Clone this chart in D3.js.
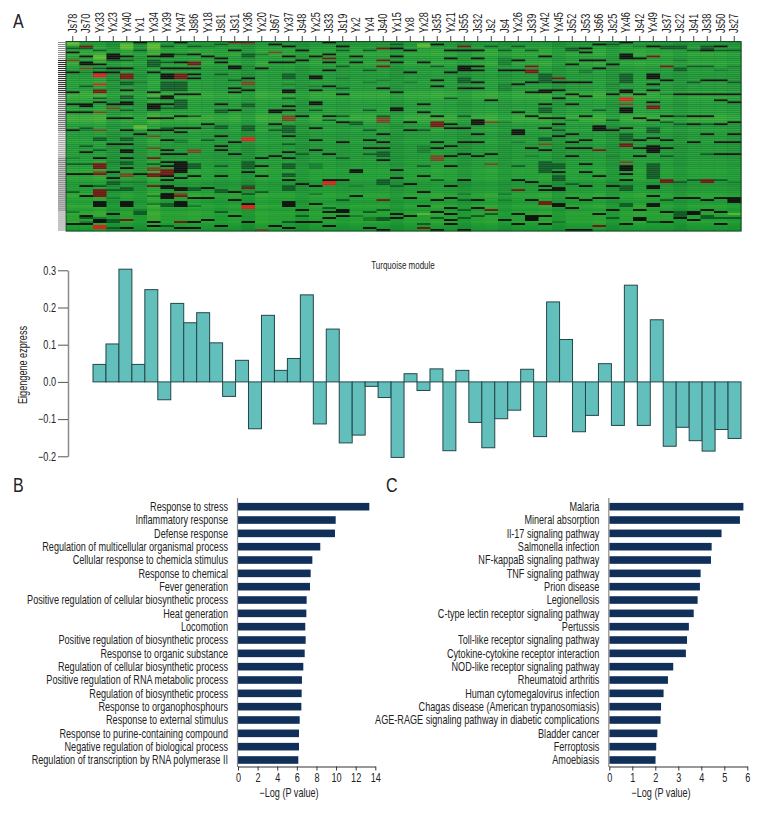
<!DOCTYPE html>
<html>
<head>
<meta charset="utf-8">
<script src="https://cdn.jsdelivr.net/npm/d3@7"></script>
<style>
  body { margin: 0; background: #fff; }
  svg { display: block; }
  text { font-family: "Liberation Sans", sans-serif; fill: #222; }
</style>
</head>
<body>
<svg width="768" height="816">
  <defs><filter id="soft" x="0" y="0" width="100%" height="100%"><feGaussianBlur stdDeviation="0.25 0.5"/></filter></defs>
</svg>
<script>
const samples = ["Js78","Js70","Yx33","Yx23","Yx40","Yx1","Yx34","Yx39","Yx47","Js86","Yx18","Js81","Js31","Yx36","Yx20","Js67","Yx37","Js48","Yx25","Js33","Js19","Yx2","Yx4","Js40","Yx15","Yx8","Yx28","Js35","Yx21","Js55","Js32","Js2","Js4","Yx26","Js39","Yx42","Yx45","Js52","Js53","Js66","Js25","Yx46","Js42","Yx49","Js37","Js22","Js41","Js38","Js50","Js27"];

const eigengene = [0.047,0.102,0.303,0.047,0.248,-0.048,0.211,0.159,0.186,0.105,-0.039,0.058,-0.126,0.179,0.031,0.063,0.234,-0.113,0.142,-0.164,-0.143,-0.012,-0.042,-0.203,0.022,-0.023,0.035,-0.185,0.031,-0.109,-0.177,-0.099,-0.076,0.034,-0.147,0.215,0.114,-0.134,-0.09,0.049,-0.117,0.26,-0.117,0.167,-0.173,-0.122,-0.158,-0.186,-0.128,-0.152];

const goTerms = ["Response to stress","Inflammatory response","Defense response","Regulation of multicellular organismal process","Cellular response to chemicla stimulus","Response to chemical","Fever generation","Positive regulation of cellular biosynthetic process","Heat generation","Locomotion","Positive regulation of biosynthetic process","Response to organic substance","Regulation of cellular biosynthetic process","Positive regulation of RNA metabolic process","Regulation of biosynthetic process","Response to organophosphours","Response to external stimulus","Response to purine-containing compound","Negative regulation of biological process","Regulation of transcription by RNA polymerase II"];
const goValues = [13.39,9.96,9.89,8.39,7.58,7.41,7.34,7.0,6.97,6.86,6.9,6.8,6.66,6.52,6.49,6.46,6.29,6.22,6.22,6.15];

const pathways = ["Malaria","Mineral absorption","Il-17 signaling pathway","Salmonella infection","NF-kappaB signaling pathway","TNF signaling pathway","Prion disease","Legionellosis","C-type lectin receptor signaling pathway","Pertussis","Toll-like receptor signaling pathway","Cytokine-cytokine receptor interaction","NOD-like receptor signaling pathway","Rheumatoid arthritis","Human cytomegalovirus infection","Chagas disease (American trypanosomiasis)","AGE-RAGE signaling pathway in diabetic complications","Bladder cancer","Ferroptosis","Amoebiasis"];
const pathwayValues = [5.83,5.68,4.88,4.45,4.42,3.97,3.94,3.84,3.67,3.46,3.38,3.33,2.78,2.55,2.36,2.25,2.23,2.09,2.04,2.01];

// expression, one string per sample: row + level, everything else is the column's base green
const levels = { k: 0, d: -0.25, m: -0.45, l: -1, b: 0.3, n: 0.55, r: 0.95 };
const baseLevel = [-.75,-.75,-.78,-.64,-.72,-.66,-.8,-.72,-.72,-.75,-.72,-.68,-.72,-.62,-.75,-.72,-.72,-.64,-.72,-.72,-.68,-.72,-.72,-.72,-.64,-.72,-.72,-.75,-.72,-.64,-.72,-.75,-.66,-.72,-.72,-.75,-.64,-.72,-.72,-.75,-.64,-.72,-.75,-.72,-.72,-.64,-.72,-.72,-.72,-.68];
// a few rows run lighter or darker right across the map
const rowShade = [.1,.1,.05,0,-.04,-.04,-.08,0,.04,0,-.06,-.06,.04,.06,.06,0,.08,.08,.06,.04,0,.04,.06,.06,.04,-.06,-.08,-.08,-.04,0,.02,.06,.06,.02,0,.02,-.04,-.08,-.1,-.1,-.04,.02,.08,.04,-.04,.04,.08,.08,.06,.02,0,.06,.08,.08,.04,.06,.04,.06,.08,.02,0,.06,.04,0,-.04,-.04,0,-.02,-.04,-.02,.06,.08,.06,.02,.04,0,-.06,-.08,-.02,-.02,.04,-.02,-.08,-.04,.02,-.06,-.08,-.04,-.06,-.04,-.08,-.02,.02,.04,.08];
const heatRows = [
  "0-1l 3d 5k 9b 15k 25k 31k 35k 44k 58m 61d 66k 75d 85m 91k",
  "2n 3d 7k 10-11k 13b 15m 22d 31-32k 35k 43d 44m 52d 55k 61d 66k 72k 77k 87k 88d 90m 91k",
  "4d 7-8l 11k 13d 15k 16-17r 21r 24-25n 28d 30k 35b 44b 48-49d 54d 58k 61-63n 65b 66n 72d 74-77n 80-82k 88m 89-90k 92-93r",
  "6-8k 9d 13k 15k 19m 31k 33b 38k 51k 60m 65k 68k 70-71d 74d 78m 86k 89-90d 93d",
  "1-3l 7k 9d 13k 16-18n 20-21d 24k 27-28d 30-31k 34d 38k 44k 48-49d 51k 54-55k 58k 60-61d 63k 66-67b 70m 73-74d 80-82k 89n 93k",
  "0k 4d 20m 42l 43l 46k 66k 70m 84m 85-86d",
  "1-3l 7k 9-11d 12d 15k 25k 28d 31-33k 34d 38k 44k 47b 53b 58n 61d 63-64b 66-67n 72n 77m 81m 90k 92k",
  "2d 6-7k 10d 13k 16-18k 20-24d 27-28k 31k 33d 38k 43d 44k 49k 54k 56k 60k 62k 64-66n 67k 69k 72-73k 76-78k 81-82d 92d",
  "0k 6d 10k 13k 16-18n 20-24d 26k 29-33d 37k 43k 45k 49-50m 56k 60-65k 68k 73-74k 76b 77n 80-82k 90n 93k",
  "2d 6k 10-11n 13k 16k 18k 26k 37d 43k 54-55b 61-63d 67k 73-74d 78k 82m 90k 93k",
  "2m 7k 41k 43m 49d 73k 78k 89k",
  "1d 8k 10k 16d 31k 34-35d 42-43d 47k 52k 54k 62d 67k 74-75d 85d 92k",
  "0n 4k 12-13k 19d 23k 25k 34k 50k 56k 75k 79k 87k",
  "0n 6-7d 12m 18k 20-21b 24k 31-32d 42-44d 48-49r 60-63d 65k 72d 73n 76d 81k 82-83r 90k",
  "6m 13k 58k 62k 67k 75d 94b",
  "1k 5b 10k 34-35k 41k 44d 57k 92k",
  "2k 7k 10k 16-18d 21m 24-25k 28d 32k 34k 37-39b 42-45d 47k 51d 55k 58k 61-63d 66-67d 69k 72-74d 80-82k 90d 93k",
  "4k 9k 37k 56d 71k 84k 87d 90k",
  "7k 17-18k 22m 24k 30-31k 34d 43k 49k 54k 61-63m 72k 76m 81k 90k",
  "0k 6k 8n 10k 14k 22k 37k 39d 56k 69k 70-71r 83d 85k 88k 92k",
  "2k 4d 12d 18m 23d 26k 37d 40k 50k 58d 69k 79d 84-85k 87k",
  "7k 10k 40-41d 64k 65k 72m 77k 87m",
  "4d 14d 20m 34d 44d 49k 53k 56d 85d 88m 89m 93k",
  "3n 9n 12n 19m 23k 37d 38-40b 46k 50k 53k 55-57d 59k 69-71d 79n 84d 88-89d 94k",
  "1d 3k 7k 10k 25k 33-34k 64k 68k 72d 86k 88k",
  "4k 15k 20m 40k 44k 71k 78k 87k",
  "1-2l 10k 31k 35k 44d 52-55m 62d 67k 75k 82k 86l 91d 93n",
  "1k 12d 19k 22k 37k 40-42n 50k 53k 57b 58-59b 69d 79k 85k 88d 94k",
  "4k 8k 15k 28d 41k 43k 52k 57k 62k 72k 78k 83k 86k 89k 91k",
  "2n 4k 12-14k 18-20d 23k 37d 43k 50k 56k 69k 76m 79d 84d 88d 94k",
  "4k 8k 12k 14k 20k 23k 39-41k 46k 50k 57k 79k 83k 87d",
  "2d 29k 40b 56k 61b 84n 86d",
  "4d 8-11m 14k 21-24m 40m 76m 79m 89k",
  "2d 9k 14k 21k 35k 44-46k 50m 62d 69k 74n 86k 91k",
  "4d 12n 14-15n 20k 25k 37k 53k 57m 70k 79k 87-89k",
  "7k 16-20d 24-25k 31k 33-35d 38k 43k 48-49d 51b 54k 60-65d 72k 74k 80-81n 87k 91k",
  "18n 20k 24k 28k 38k 41k 44d 47k 61-63d 65k 67-69d 73-74k 81-82k 90m",
  "3-4d 11k 20k 26k 31k 39m 46k 50k 53k 57k 71d 78k 83k 94k",
  "3k 5k 9k 14-15m 20k 27k 37k 49k 53k 61k 65k 72k 79k 94k",
  "1k 9k 13k 34d 42-44k 54n 67k 78k 86k 92n",
  "1d 11k 21m 26k 39d 43m 44k 57m 72k 78k 84k 88d",
  "0k 6-8k 16-20d 24-25k 28-29r 31b 33-35k 43k 46-49d 51-52n 60b 62-64k 66k 69k 72-74d 81-82d 91k",
  "2m 8k 26k 38k 49k 53k 57k 84k 88-89k",
  "2k 7n 16-18k 21k 24k 30k 32-33n 39k 43-45d 48k 52-54k 55k 61-68d 72-73k 77k 81-82k 90d",
  "2-3d 12n 19k 26m 37k 40d 49k 53k 57d 69-70n 79d 85k 90k",
  "2-3d 9m 13-14d 26k 37d 41d 70d 78k 85-87d 88k",
  "4d 12d 20d 26k 37k 41k 50k 69d 78k 85-86k 89k",
  "2-3d 4k 12d 19k 26k 37k 41d 46k 56d 69-70n 79k 84k 87-88d",
  "2k 4d 14m 19k 26k 29k 41k 50k 56k 69d 78k 85k 88d 91k",
  "4d 12m 20d 26k 30k 40k 46k 50k 56k 70m 78-80k 86l 88d"
];
const rowCount = 95;
const narrow = 0.76;

const svg = d3.select("svg");

// expand the strings to one cell per sample and row
const cells = [];
heatRows.forEach((s, c) => {
  const col = rowShade.map(o => baseLevel[c] + o);
  s.split(" ").forEach(tok => {
    const m = tok.match(/^(\d+)(?:-(\d+))?([a-z])$/);
    const a = +m[1], b = m[2] ? +m[2] : a;
    for (let r = a; r <= b; r++) col[r] = levels[m[3]];
  });
  col.forEach((v, r) => cells.push({ c, r, v }));
});

const heatX = d3.scaleBand().domain(samples).range([66, 741]);
const heatY = d3.scaleBand().domain(d3.range(rowCount)).range([41.5, 231]);
const heatColor = d3.scaleLinear()
  .domain([-1, -0.75, -0.45, -0.25, 0, 0.3, 0.55, 0.95])
  .range(["#58b62e", "#1f9d33", "#147c2c", "#0e5a24", "#0a120a", "#6e4a20", "#6f1a12", "#d2281c"])
  .clamp(true);

svg.append("g").attr("filter", "url(#soft)").selectAll("rect").data(cells).join("rect")
  .attr("x", d => heatX(samples[d.c]))
  .attr("y", d => heatY(d.r))
  .attr("width", heatX.bandwidth() + 0.5)
  .attr("height", heatY.bandwidth() + 0.3)
  .attr("fill", d => heatColor(d.v));

svg.append("rect")
  .attr("x", 66).attr("y", 41.5).attr("width", 675).attr("height", 189.5)
  .attr("fill", "none").attr("stroke", "#154f25").attr("stroke-width", 1);

// row label stripes left of the heatmap, grey where the original's labels blur together
const stripeTone = d => (d < 9 || (d > 44 && d < 58) || d > 84) ? "#8c8c8c" : (d < 26 ? "#1c1c1c" : "#555");
svg.append("g").selectAll("line").data(d3.range(rowCount)).join("line")
  .attr("x1", 58).attr("x2", 66)
  .attr("y1", d => heatY(d) + 1).attr("y2", d => heatY(d) + 1)
  .attr("stroke", stripeTone).attr("stroke-width", 1);

const heatAxis = svg.append("g")
  .attr("transform", "translate(0,41)")
  .call(d3.axisTop(heatX).tickSize(5).tickPadding(3).tickSizeOuter(0));
heatAxis.select(".domain").remove();
heatAxis.selectAll("line").attr("stroke", "#444");
heatAxis.selectAll("text")
  .attr("font-size", 12)
  .attr("font-family", "Liberation Sans")
  .attr("x", 0).attr("y", 0).attr("dy", "0.35em")
  .attr("text-anchor", "start")
  .attr("transform", `translate(0,-8) rotate(-90) scale(${narrow},1)`);

// eigengene bars
const barX = d3.scaleBand().domain(samples).range([93, 741]);
const barY = d3.scaleLinear().domain([-0.2, 0.3]).range([456.3, 270.3]);

svg.append("g").selectAll("rect").data(eigengene).join("rect")
  .attr("x", (d, i) => barX(samples[i]))
  .attr("y", d => Math.min(barY(d), barY(0)))
  .attr("width", barX.bandwidth())
  .attr("height", d => Math.abs(barY(d) - barY(0)))
  .attr("fill", "#63bfbc")
  .attr("stroke", "#24474a")
  .attr("stroke-width", 1);

const eigenAxis = svg.append("g")
  .attr("transform", "translate(68,0)")
  .call(d3.axisLeft(barY).tickValues([-0.2, -0.1, 0, 0.1, 0.2, 0.3]).tickFormat(d => d3.format(".1f")(d).replace("-", "\u2212")).tickSize(10).tickSizeOuter(0));
eigenAxis.select(".domain").attr("stroke", "#8a8a8a").attr("stroke-width", 1.5);
eigenAxis.selectAll("line").attr("stroke", "#555");
eigenAxis.selectAll("text")
  .attr("font-size", 12)
  .attr("font-family", "Liberation Sans")
  .attr("x", 0)
  .attr("transform", `translate(-12,0) scale(${narrow},1)`);

svg.append("text").attr("transform", `translate(403,269) scale(${narrow},1)`).attr("text-anchor", "middle").attr("font-size", 10.5).text("Turquoise module");
svg.append("text").attr("transform", `translate(27,365) rotate(-90) scale(${narrow},1)`).attr("text-anchor", "middle").attr("font-size", 12).text("Eigengene ezpress");

// enrichment panels
function enrichment(names, values, x0, x1, xMax, titleX) {
  const x = d3.scaleLinear().domain([0, xMax]).range([x0, x1]);
  const y = d3.scalePoint().domain(names).range([506.7, 760]);

  svg.append("g").selectAll("rect").data(values).join("rect")
    .attr("x", x0)
    .attr("y", (d, i) => y(names[i]) - 3.8)
    .attr("width", d => x(d) - x0)
    .attr("height", 7.6)
    .attr("fill", "#10305a");

  svg.append("g").selectAll("text").data(names).join("text")
    .attr("transform", d => `translate(${x0 - 10},${y(d)}) scale(${narrow},1)`)
    .attr("dy", "0.35em")
    .attr("text-anchor", "end")
    .attr("font-size", 12)
    .text(d => d);

  svg.append("line").attr("x1", x0 - 0.5).attr("x2", x0 - 0.5).attr("y1", 498).attr("y2", 767)
    .attr("stroke", "#8a8a8a").attr("stroke-width", 1.2);

  const ax = svg.append("g")
    .attr("transform", "translate(0,766.5)")
    .call(d3.axisBottom(x).ticks(xMax === 14 ? 7 : 6).tickSize(4).tickSizeOuter(0));
  ax.select(".domain").attr("stroke", "#333");
  ax.selectAll("line").attr("stroke", "#333");
  ax.selectAll("text")
    .attr("font-size", 12)
    .attr("font-family", "Liberation Sans")
    .attr("y", 0).attr("dy", "0.35em")
    .attr("transform", `translate(0,11) scale(${narrow},1)`);

  svg.append("text").attr("transform", `translate(${titleX},797) scale(${narrow},1)`).attr("text-anchor", "middle").attr("font-size", 12).text("\u2212Log (P value)");
}
enrichment(goTerms, goValues, 238, 375.3, 14, 289);
enrichment(pathways, pathwayValues, 609.3, 747.3, 6, 661);

// panel letters
[["A", 13, 28], ["B", 13, 492], ["C", 386, 492]].forEach(([t, x, y]) => {
  svg.append("text").attr("transform", `translate(${x},${y}) scale(0.8,1)`).attr("font-size", 20).text(t);
});
</script>
</body>
</html>
